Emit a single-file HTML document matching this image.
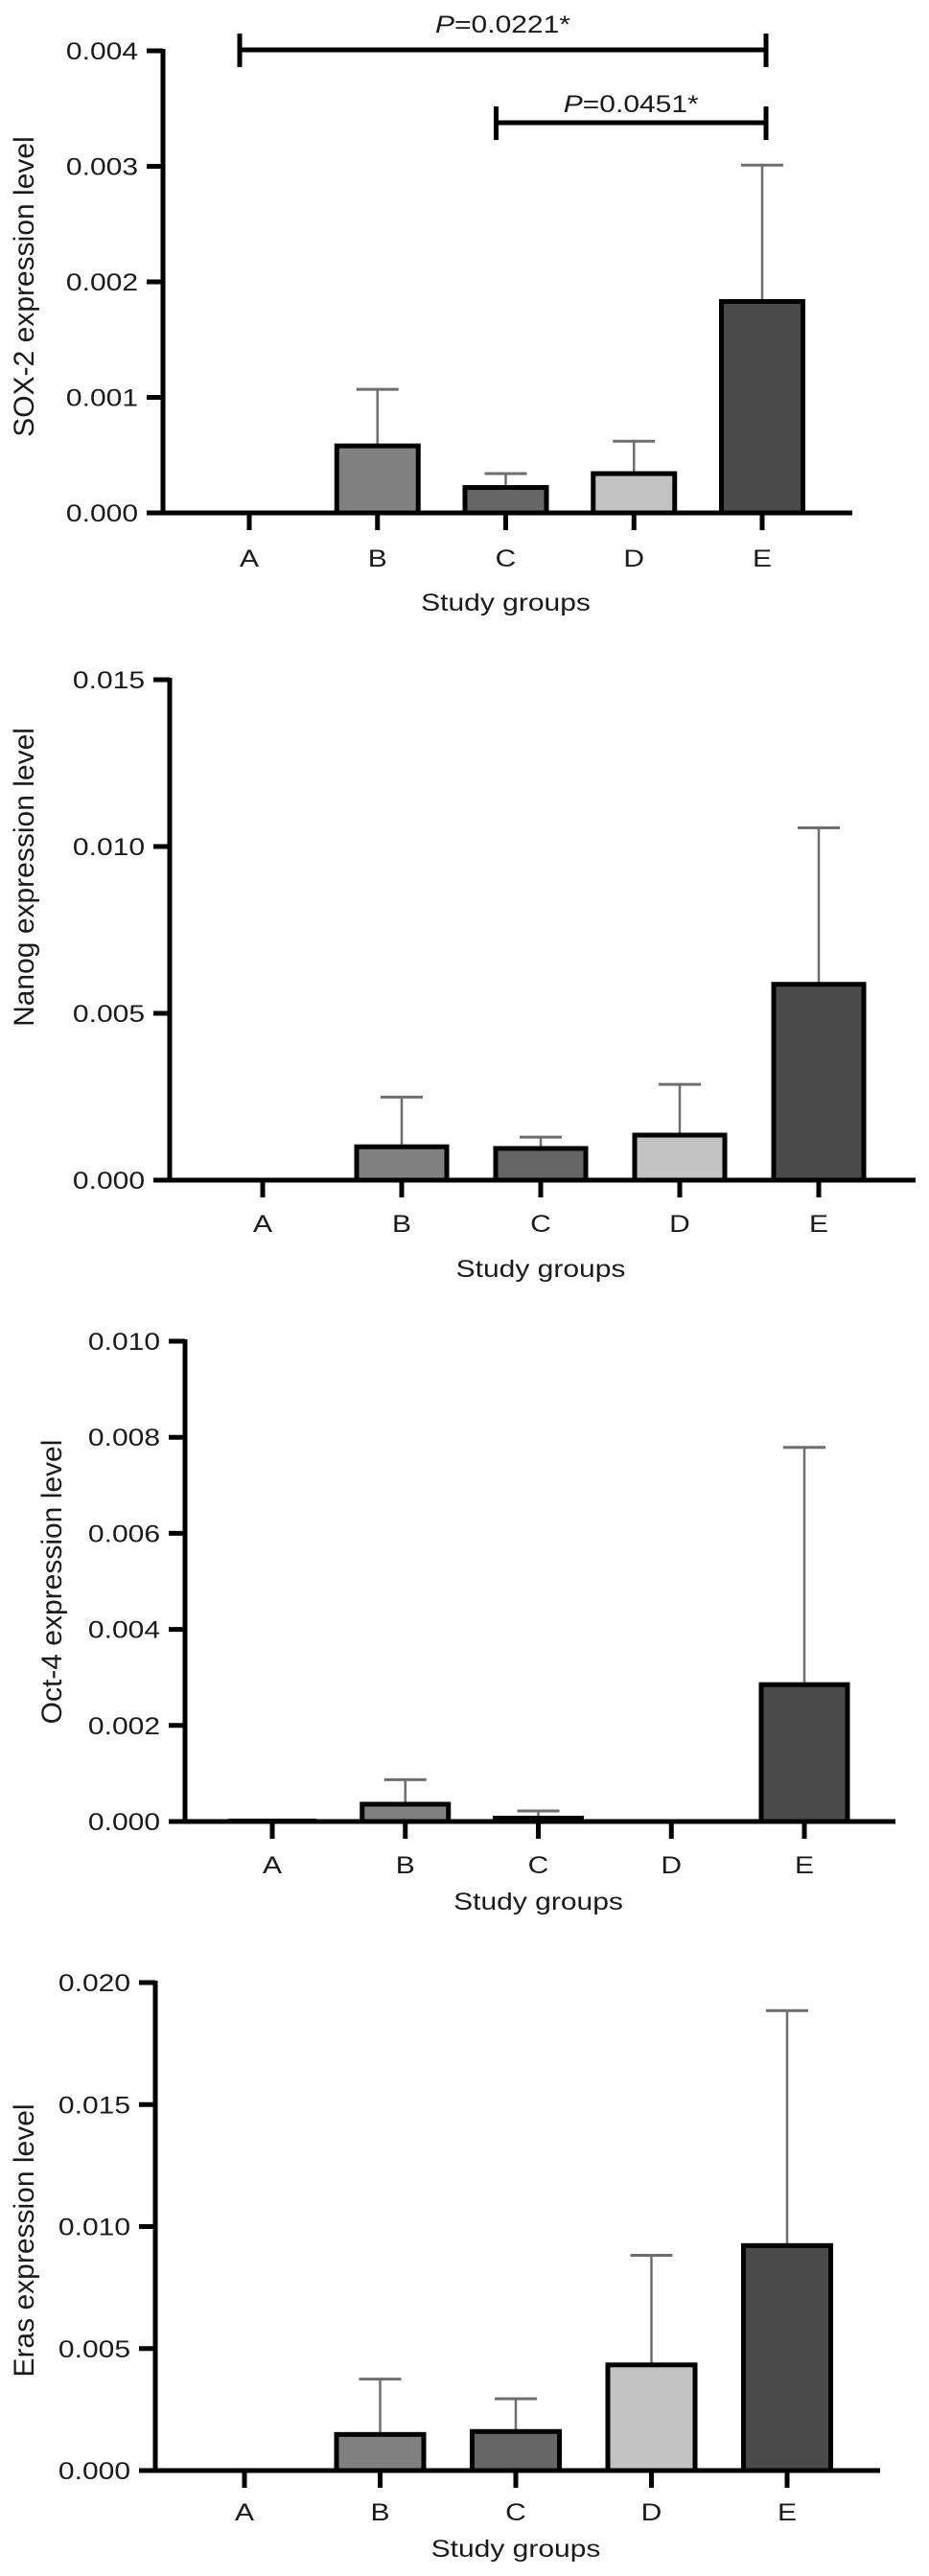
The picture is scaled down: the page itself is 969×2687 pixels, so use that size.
<!DOCTYPE html>
<html><head><meta charset="utf-8">
<style>
html,body{margin:0;padding:0;background:#fff;}
svg{display:block;font-family:"Liberation Sans",Arial,sans-serif;}
</style></head>
<body>
<svg id="fig" width="969" height="2687" viewBox="0 0 969 2687" xmlns="http://www.w3.org/2000/svg"></svg>
<script>
const categories = ["A","B","C","D","E"];
const sox2Values = [0.00001, 0.00058, 0.00022, 0.00034, 0.00183];
const sox2Errors = [0, 0.00049, 0.00012, 0.00028, 0.00118];
const sox2Ticks = ["0.000","0.001","0.002","0.003","0.004"];
const nanogValues = [0, 0.0010, 0.00095, 0.00135, 0.00587];
const nanogErrors = [0, 0.00149, 0.00034, 0.00152, 0.00469];
const nanogTicks = ["0.000","0.005","0.010","0.015"];
const oct4Values = [0.00004, 0.00036, 0.00007, 0.00001, 0.00285];
const oct4Errors = [0, 0.00051, 0.00015, 0, 0.00494];
const oct4Ticks = ["0.000","0.002","0.004","0.006","0.008","0.010"];
const erasValues = [0, 0.00148, 0.0016, 0.00433, 0.00922];
const erasErrors = [0, 0.00227, 0.00134, 0.00449, 0.00963];
const erasTicks = ["0.000","0.005","0.010","0.015","0.020"];
const barFills = ["#ffffff","#808080","#666666","#c2c2c2","#4a4a4a"];

const NS = "http://www.w3.org/2000/svg";
const svg = document.getElementById("fig");
function mk(tag, attrs, parent){
  const e = document.createElementNS(NS, tag);
  for (const k in attrs) e.setAttribute(k, attrs[k]);
  (parent||svg).appendChild(e);
  return e;
}
function txt(parent, s, x, y, size, anchor, sx, extra){
  const t = mk("text", {"transform":"translate("+x+","+y+") scale("+sx+",1)"+(extra||""), "font-size":size, "text-anchor":anchor, "fill":"#1a1a1a"}, parent);
  t.textContent = s;
  return t;
}

function drawChart(cfg){
  const g = mk("g", {});
  
  
  const max = parseFloat(cfg.ticks[cfg.ticks.length-1]);
  const yScale = v => cfg.y0 - (v / max) * (cfg.y0 - cfg.yTop);
  const xScale = i => cfg.xA + i * cfg.step;

  cfg.values.forEach((v, i) => {
    const cx = xScale(i);
    const top = yScale(v + cfg.errors[i]);
    if (cfg.errors[i] > 0) {
      const el = mk("line", {x1:cx, x2:cx, y1:yScale(v), y2:top, stroke:"#6e6e6e", "stroke-width":2.5}, g);
      
      
      const cap = mk("line", {x1:cx-22, x2:cx+22, y1:top, y2:top, stroke:"#6e6e6e", "stroke-width":3}, g);
      
      
    }
    const h = cfg.y0 - yScale(v);
    const r = mk("rect", {x:cx-cfg.bw/2, y:yScale(v), width:cfg.bw, height:h, fill:barFills[i], stroke:"#000", "stroke-width": h > 3 ? 5 : 2}, g);
    
    
  });

  const ya = mk("line", {x1:cfg.axisX, x2:cfg.axisX, y1:cfg.yTop-2, y2:cfg.y0, stroke:"#000", "stroke-width":5}, g);
  
  
  cfg.ticks.forEach((lab, k) => {
    const y = yScale(parseFloat(lab));
    const tk = mk("line", {x1:cfg.axisX-17, x2:cfg.axisX, y1:y, y2:y, stroke:"#000", "stroke-width":5}, g);
    
    
    const t = txt(g, lab, cfg.axisX-26, y+9, 25, "end", 1.2);
    
    
  });
  const xa = mk("line", {x1:cfg.axisX-17, x2:cfg.xEnd, y1:cfg.y0, y2:cfg.y0, stroke:"#000", "stroke-width":5}, g);
  
  
  categories.forEach((c, i) => {
    const x = xScale(i);
    const tk = mk("line", {x1:x, x2:x, y1:cfg.y0, y2:cfg.y0+18, stroke:"#000", "stroke-width":5}, g);
    
    
    const t = txt(g, c, x, cfg.labY+9, 25, "middle", 1.2);
    
    
  });
  const xt = txt(g, "Study groups", cfg.xA + 2*cfg.step, cfg.studyY+10, 25, "middle", 1.2);
  
  
  const yt = txt(g, cfg.title, cfg.titleX+10, cfg.titleY, 30, "middle", 1.0, " rotate(-90)");
  
  
  return {g, yScale, xScale};
}

const c1 = drawChart({name:"sox2-chart", values:sox2Values, errors:sox2Errors, ticks:sox2Ticks, title:"SOX-2 expression level",
  axisX:170, yTop:53, y0:535, xA:260, step:133.75, bw:85, xEnd:889, labY:582, studyY:627, titleX:25, titleY:299});
const c2 = drawChart({name:"nanog-chart", values:nanogValues, errors:nanogErrors, ticks:nanogTicks, title:"Nanog expression level",
  axisX:177, yTop:709, y0:1231, xA:274, step:145, bw:94, xEnd:955, labY:1276, studyY:1322, titleX:25, titleY:915});
const c3 = drawChart({name:"oct4-chart", values:oct4Values, errors:oct4Errors, ticks:oct4Ticks, title:"Oct-4 expression level",
  axisX:193, yTop:1399, y0:1900, xA:284, step:138.75, bw:90, xEnd:934, labY:1945, studyY:1982, titleX:54, titleY:1650});
const c4 = drawChart({name:"eras-chart", values:erasValues, errors:erasErrors, ticks:erasTicks, title:"Eras expression level",
  axisX:162, yTop:2068, y0:2577, xA:255, step:141.5, bw:91, xEnd:918, labY:2620, studyY:2657, titleX:25, titleY:2337});

function bracket(name, i1, i2, y, label, labelY){
  const g = mk("g", {});
  
  
  const x1 = c1.xScale(i1) - 10, x2 = c1.xScale(i2) + 4;
  mk("line", {x1:x1, x2:x2, y1:y, y2:y, stroke:"#000", "stroke-width":5}, g);
  mk("line", {x1:x1, x2:x1, y1:y-17, y2:y+18, stroke:"#000", "stroke-width":5}, g);
  mk("line", {x1:x2, x2:x2, y1:y-17, y2:y+18, stroke:"#000", "stroke-width":5}, g);
  const t = mk("text", {"transform":"translate("+((x1+x2)/2)+","+labelY+") scale(1.2,1)", "font-size":25, "text-anchor":"middle", "fill":"#1a1a1a"}, g);
  const p = mk("tspan", {"font-style":"italic"}, t); p.textContent = "P";
  const r = mk("tspan", {}, t); r.textContent = "=" + label + "*";
  
  
}
bracket("bracket-a-e", 0, 4, 52, "0.0221", 34);
bracket("bracket-c-e", 2, 4, 128, "0.0451", 117);
</script>
</body></html>
